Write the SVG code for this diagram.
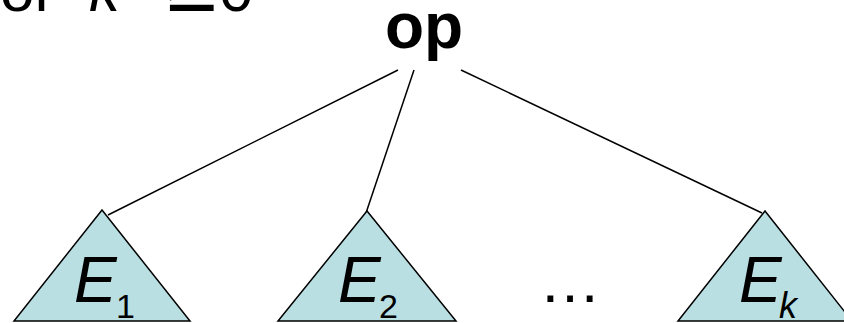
<svg xmlns="http://www.w3.org/2000/svg" width="844" height="323" viewBox="0 0 844 323">
<style>
.tri{fill:#b9dfe3;stroke:#000;stroke-width:1.5;stroke-linejoin:miter}
.ln{stroke:#000;stroke-width:1.5;fill:none}
.t{font-family:"Liberation Sans",Arial,sans-serif;fill:#000}
.big{font-size:64px}
.it{font-style:italic}
.sub{font-size:34px}
</style>
<rect width="844" height="323" fill="#fff"/>
<g id="caption"><text class="t" y="11" font-size="62"><tspan x="0">or</tspan> <tspan class="it" x="89">k</tspan><tspan x="167" font-size="90">≥</tspan><tspan x="219">0</tspan></text></g>
<g id="connectors">
<line class="ln" x1="398" y1="70" x2="108" y2="215"/>
<line class="ln" x1="414" y1="70" x2="366" y2="213"/>
<line class="ln" x1="461" y1="70" x2="762" y2="213"/>
</g>
<g id="op"><text class="t" x="424" y="48" font-size="64" font-weight="bold" text-anchor="middle">op</text></g>
<g id="E1">
<polygon class="tri" points="102,210 14,321 190,321"/>
<text class="t big it" x="74" y="302">E</text><text class="t sub" x="116" y="318">1</text>
</g>
<g id="E2">
<polygon class="tri" points="367,211 278,321 456,321"/>
<text class="t big it" x="338" y="302">E</text><text class="t sub" x="379" y="318">2</text>
</g>
<g id="dots"><text class="t" x="570" y="302" font-size="62" text-anchor="middle">…</text></g>
<g id="Ek">
<polygon class="tri" points="765,211 678,321 852,321"/>
<text class="t big it" x="739" y="302">E</text><text class="t it" x="779" y="318" font-size="36">k</text>
</g>
</svg>
